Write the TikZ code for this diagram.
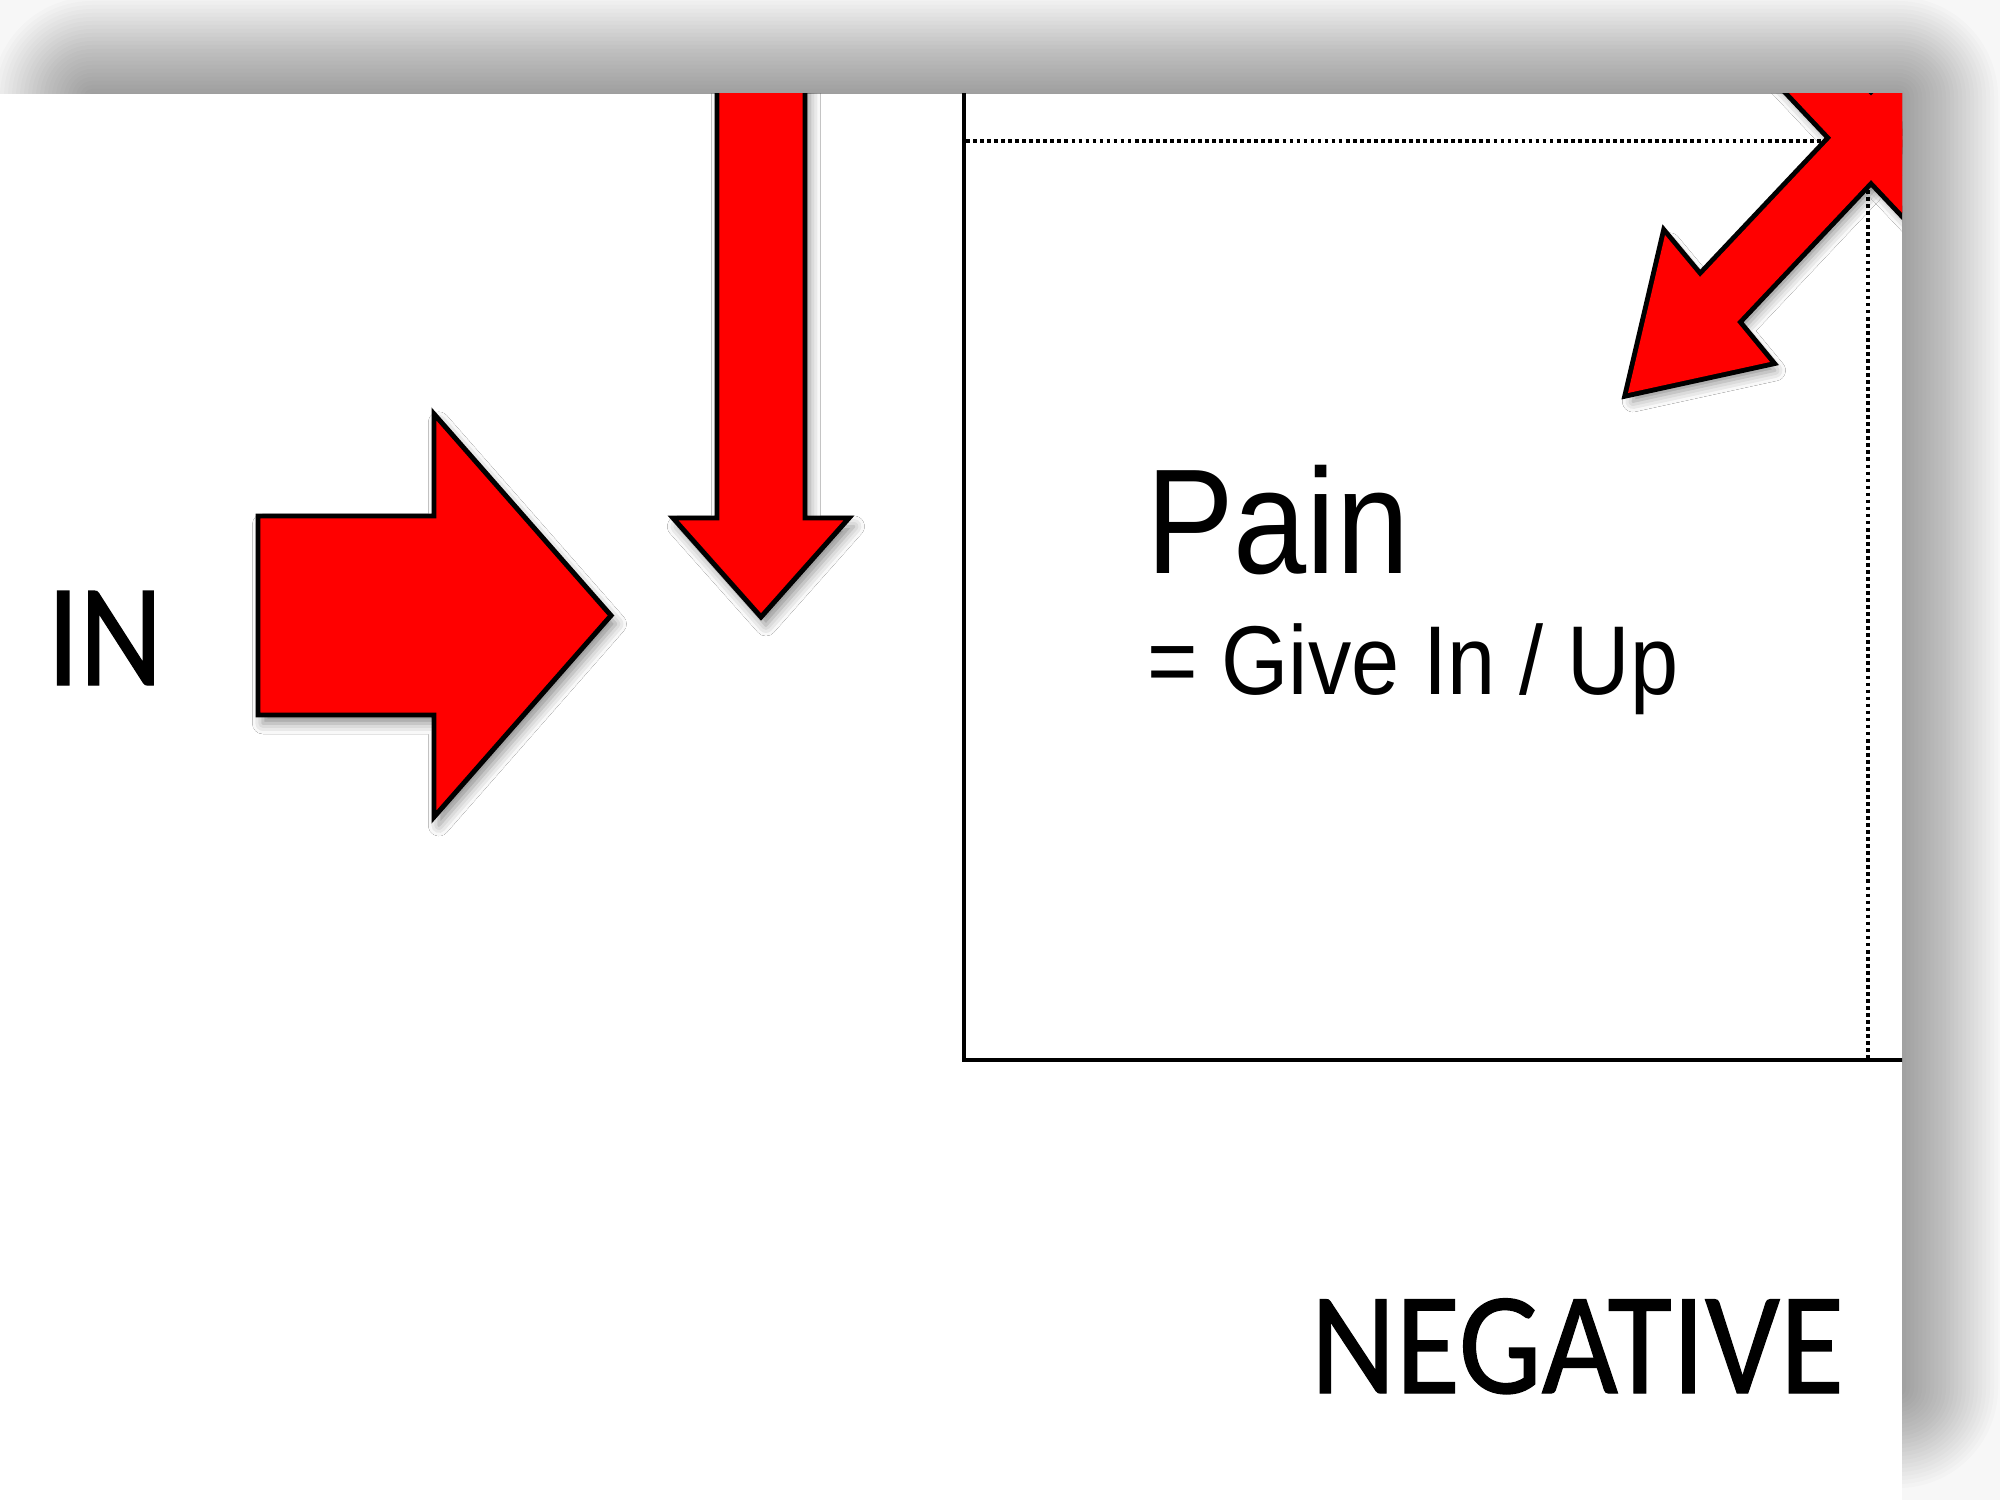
\documentclass[tikz,border=0pt]{standalone}
\usepackage{graphicx}
\usepackage{fontspec}
\newfontfamily\arialf{Liberation Sans}
\newfontfamily\calf[FakeBold=0.9]{Carlito}
\usetikzlibrary{shadows.blur}
\begin{document}
\begin{tikzpicture}[x=0.01cm,y=-0.01cm,
  redarrow/.style={fill=red, draw=black, line width=1.4pt, line join=miter},
  softshadow/.style={blur shadow={shadow xshift=1.4pt, shadow yshift=-2.4pt, shadow blur radius=3pt, shadow opacity=45}},
  dotline/.style={line width=1.1pt, dash pattern=on 1.05pt off 0.95pt},
  boxline/.style={line width=1.25pt},
  lbl/.style={inner sep=0pt, outer sep=0pt}]
\useasboundingbox (0,0) rectangle (2000,1500);
\fill[black!3] (0,0) rectangle (2000,1500);
% page shadow built from stacked translucent layers
\foreach \k in {0,...,24}{
  \pgfmathsetmacro{\e}{48-4*\k}
  \pgfmathsetmacro{\r}{(\e+52)*0.01}
  \fill[black, opacity=0.0165, rounded corners=\r cm] (40-\e,45-\e) rectangle (1950+\e,1440+\e);
}
\fill[white] (0,94) rectangle (1902,1500);
\begin{scope}
  \clip (0,94) rectangle (1902,1500);
  % quadrant box and dotted guides
  \draw[dotline] (966,141) coordinate (hl) -- (1868,141) coordinate (ctr);
  \draw[dotline] (ctr) -- (1868,1058) coordinate (vb);
  \draw[boxline] (964,0) coordinate (bt) -- (964,1060) coordinate (bl) -- (1950,1060) coordinate (br);
  % down arrow
  \path[redarrow, softshadow] (717,0) -- (805,0) -- (805,518) -- (849,518) -- (761,617) -- (673,518) -- (717,518) -- cycle;
  % big right arrow
  \path[redarrow, softshadow] (258,516) -- (434,516) -- (434,414) -- (611,615.5) -- (434,817) -- (434,715) -- (258,715) -- cycle;
  % crossed double arrows (union outline)
  \path[softshadow, draw=black, line width=2.8pt, fill=red, line join=miter]
    (1628,393) -- (1665,235) -- (1700,277) -- (1999,-40) -- (1966,-80) -- (2108,-111) -- (2071,47) -- (2036,5) -- (1737,322) -- (1770,362) -- cycle;
  \path[softshadow, draw=black, line width=2.8pt, fill=red, line join=miter]
    (2114,393) -- (2077,235) -- (2042,277) -- (1743,-40) -- (1776,-80) -- (1634,-111) -- (1671,47) -- (1706,5) -- (2005,322) -- (1972,362) -- cycle;
  \fill[red] (1628,393) -- (1665,235) -- (1700,277) -- (1999,-40) -- (1966,-80) -- (2108,-111) -- (2071,47) -- (2036,5) -- (1737,322) -- (1770,362) -- cycle;
  \fill[red] (2114,393) -- (2077,235) -- (2042,277) -- (1743,-40) -- (1776,-80) -- (1634,-111) -- (1671,47) -- (1706,5) -- (2005,322) -- (1972,362) -- cycle;
  % texts
  \node[lbl, anchor=base west] (in) at (47,685) {\calf\fontsize{41.6pt}{50pt}\selectfont\scalebox{0.88}[1]{IN}};
  \node[lbl, anchor=base west] (pain) at (1146,573) {\arialf\fontsize{42.5pt}{50pt}\selectfont\scalebox{0.88}[1]{Pain}};
  \node[lbl, anchor=base west] (give) at (1147,694) {\arialf\fontsize{27.8pt}{34pt}\selectfont\scalebox{0.885}[1]{= Give In / Up}};
  \node[lbl, anchor=base east] (neg) at (1844,1393) {\calf\fontsize{41.4pt}{50pt}\selectfont\scalebox{0.905}[1]{NEGATIVE}};
\end{scope}
\end{tikzpicture}
\end{document}
